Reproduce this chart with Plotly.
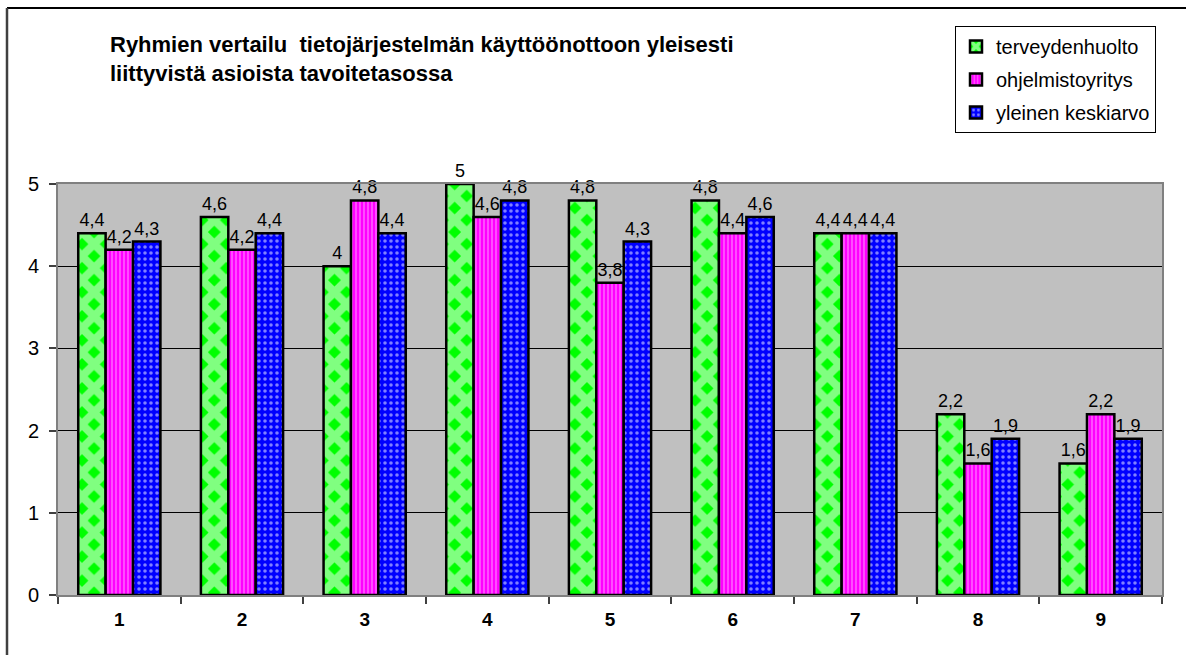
import plotly.graph_objects as go

# Question numbers on the x axis
categories = ["1", "2", "3", "4", "5", "6", "7", "8", "9"]

# Average rating per group
terveydenhuolto = [4.4, 4.6, 4.0, 5.0, 4.8, 4.8, 4.4, 2.2, 1.6]
ohjelmistoyritys = [4.2, 4.2, 4.8, 4.6, 3.8, 4.4, 4.4, 1.6, 2.2]
yleinen_keskiarvo = [4.3, 4.4, 4.4, 4.8, 4.3, 4.6, 4.4, 1.9, 1.9]

y_ticks = [0, 1, 2, 3, 4, 5]

FONT = "Liberation Sans, Arial, sans-serif"

# Plot-area geometry in pixels (used to place frame lines in paper coords)
W, H = 1186, 655
L, R, T, B = 58, 24, 184, 60
PW, PH = W - L - R, H - T - B


def px_x(x):
    return (x - L) / PW


def px_y(y):
    return (H - B - y) / PH


series = [
    ("terveydenhuolto", terveydenhuolto,
     dict(shape="x", fgcolor="#FFFFFF", bgcolor="#00FF00", size=17, solidity=0.72)),
    ("ohjelmistoyritys", ohjelmistoyritys,
     dict(shape="|", fgcolor="#FFFFFF", bgcolor="#FF00FF", size=4, solidity=0.3)),
    ("yleinen keskiarvo", yleinen_keskiarvo,
     dict(shape=".", fgcolor="#FFFFFF", bgcolor="#0000FF", size=6, solidity=0.28)),
]

fig = go.Figure()
for i, (name, vals, pattern) in enumerate(series):
    fig.add_trace(go.Bar(
        name=name,
        x=categories,
        y=vals,
        legendgroup=name,
        marker=dict(
            color=pattern["bgcolor"],
            pattern=pattern,
            line=dict(color="black", width=2.5),
        ),
        texttemplate="%{y}",
        textposition="outside",
        constraintext="none",
        cliponaxis=False,
        textfont=dict(family=FONT, size=18, color="black"),
    ))

fig.update_layout(
    width=W,
    height=H,
    margin=dict(l=L, r=R, t=T, b=B),
    paper_bgcolor="white",
    plot_bgcolor="#C0C0C0",
    separators=", ",
    barmode="group",
    bargap=0.33,
    bargroupgap=0,
    font=dict(family=FONT, size=20, color="black"),
    showlegend=True,
    legend=dict(
        x=px_x(1156), y=px_y(26), xanchor="right", yanchor="top",
        bgcolor="white", bordercolor="black", borderwidth=1,
        font=dict(family=FONT, size=20, color="black"),
        traceorder="grouped", tracegroupgap=4,
        itemwidth=30,
    ),
    xaxis=dict(
        type="category",
        tickfont=dict(family=FONT, size=19, color="black", weight="bold"),
        ticks="outside", tickson="boundaries", ticklen=7,
        tickcolor="#404040", tickwidth=1.5,
        showline=True, linecolor="#808080", linewidth=2, mirror=True,
        showgrid=False,
        ticklabelstandoff=6,
    ),
    yaxis=dict(
        range=[0, 5],
        tickvals=y_ticks,
        tickfont=dict(family=FONT, size=20, color="black"),
        ticks="outside", ticklen=7, tickcolor="#404040", tickwidth=1.5,
        showline=True, linecolor="#808080", linewidth=2, mirror=True,
        showgrid=True, gridcolor="black", gridwidth=1,
        zeroline=False,
        ticklabelstandoff=6,
    ),
    annotations=[
        dict(
            text="<b>Ryhmien vertailu  tietojärjestelmän käyttöönottoon yleisesti<br>"
                 "liittyvistä asioista tavoitetasossa</b>",
            xref="paper", yref="paper",
            x=px_x(108), y=px_y(30),
            xanchor="left", yanchor="top", align="left",
            showarrow=False,
            font=dict(family=FONT, size=22, color="black"),
        )
    ],
    shapes=[
        # outer chart frame: top and left edges
        dict(type="line", xref="paper", yref="paper",
             x0=px_x(7), x1=px_x(1190), y0=px_y(8), y1=px_y(8),
             line=dict(color="black", width=2)),
        dict(type="line", xref="paper", yref="paper",
             x0=px_x(7), x1=px_x(7), y0=px_y(8), y1=px_y(660),
             line=dict(color="#404040", width=2.5)),
    ],
)

fig.write_html("out.html")
